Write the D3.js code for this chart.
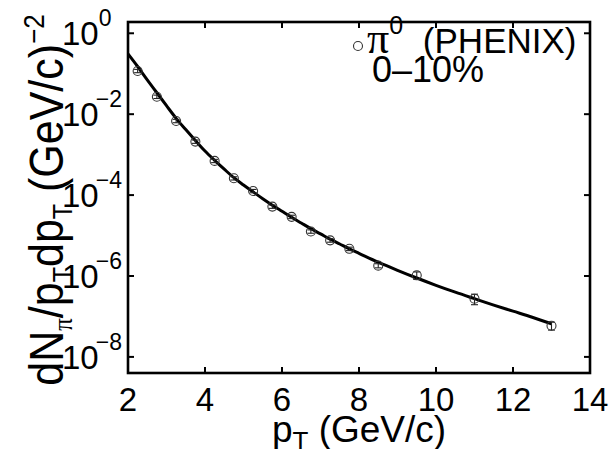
<!DOCTYPE html>
<html>
<head>
<meta charset="utf-8">
<script src="https://cdn.jsdelivr.net/npm/d3@7"></script>
<style>
  html, body { margin: 0; padding: 0; background: #fff; }
  svg { display: block; font-family: "Liberation Sans", Arial, Helvetica, sans-serif; }
</style>
</head>
<body>
<svg id="chart" width="613" height="449"></svg>
<script>
// PHENIX pi0 spectrum, 0-10% centrality: measured points
const pointPt  = [2.25, 2.75, 3.25, 3.75, 4.25, 4.75, 5.25, 5.75, 6.25, 6.75, 7.25, 7.75, 8.5, 9.5, 11.0, 13.0];
const pointVal = [0.117, 0.027, 0.0068, 0.0021, 7.0e-4, 2.6e-4, 1.26e-4, 5.2e-5, 2.9e-5, 1.26e-5, 7.6e-6, 4.7e-6, 1.8e-6, 1.04e-6, 2.75e-7, 5.9e-8];
const pointErr = [0.011, 0.0026, 6.5e-4, 2.0e-4, 6.5e-5, 2.4e-5, 1.2e-5, 5.0e-6, 2.8e-6, 1.2e-6, 7.5e-7, 4.6e-7, 2.1e-7, 2.2e-7, 0.8e-7, 1.3e-8];

// Model curve
const curvePt  = [2.0, 2.25, 2.5, 2.75, 3.0, 3.25, 3.5, 3.75, 4.0, 4.25, 4.5, 4.75, 5.0, 5.25, 5.5, 5.75, 6.0, 6.25, 6.5, 6.75, 7.0, 7.25, 7.5, 7.75, 8.0, 8.5, 9.0, 9.5, 10.0, 10.5, 11.0, 11.5, 12.0, 12.5, 13.0];
const curveVal = [0.31, 0.151, 0.0708, 0.0339, 0.0162, 0.0079, 0.00417, 0.00224, 0.00123, 7.24e-4, 4.37e-4, 2.69e-4, 1.78e-4, 1.20e-4, 8.13e-5, 5.62e-5, 3.98e-5, 2.82e-5, 2.04e-5, 1.48e-5, 1.10e-5, 8.13e-6, 6.17e-6, 4.68e-6, 3.63e-6, 2.19e-6, 1.38e-6, 8.91e-7, 5.89e-7, 3.98e-7, 2.75e-7, 1.91e-7, 1.35e-7, 9.55e-8, 6.6e-8];

// Axis ticks
const xTicks = [2, 4, 6, 8, 10, 12, 14];
const yTickExp = [0, -2, -4, -6, -8];

const svg = d3.select("#chart");
const plotLeft = 128, plotRight = 590, plotTop = 22, plotBottom = 373;
const serif = "'Liberation Serif', 'Times New Roman', serif";

const x = d3.scaleLinear().domain([2, 14]).range([plotLeft, plotRight]);
const y = d3.scaleLog().domain([4e-9, 1.9]).range([plotBottom, plotTop]);

const g = svg.append("g");

// Curve
const line = d3.line()
  .x((d, i) => x(curvePt[i]))
  .y(d => y(d))
  .curve(d3.curveMonotoneX);
g.append("path")
  .datum(curveVal)
  .attr("d", line)
  .attr("fill", "none")
  .attr("stroke", "#000")
  .attr("stroke-width", 3);

// Error bars
const pts = pointPt.map((p, i) => ({ p, v: pointVal[i], e: pointErr[i] }));
const eb = g.append("g").attr("stroke", "#222").attr("stroke-width", 1.1).attr("fill", "none");
pts.forEach(d => {
  const x0 = x(d.p), y1 = y(d.v + d.e), y2 = y(d.v - d.e);
  eb.append("line").attr("x1", x0).attr("x2", x0).attr("y1", y1).attr("y2", y2);
  eb.append("line").attr("x1", x0 - 3.5).attr("x2", x0 + 3.5).attr("y1", y1).attr("y2", y1);
  eb.append("line").attr("x1", x0 - 3.5).attr("x2", x0 + 3.5).attr("y1", y2).attr("y2", y2);
});

// Markers
g.append("g").selectAll("circle").data(pts).join("circle")
  .attr("cx", d => x(d.p))
  .attr("cy", d => y(d.v))
  .attr("r", 4.5)
  .attr("fill", "none")
  .attr("stroke", "#333")
  .attr("stroke-width", 1.1);

// Axes box with inward ticks on all sides
const axG = svg.append("g").attr("stroke", "#000").attr("stroke-width", 2.6).attr("fill", "none");
axG.append("rect").attr("x", plotLeft).attr("y", plotTop).attr("width", plotRight - plotLeft).attr("height", plotBottom - plotTop);
const tl = 6;
xTicks.forEach(t => {
  axG.append("line").attr("x1", x(t)).attr("x2", x(t)).attr("y1", plotBottom).attr("y2", plotBottom - tl).attr("stroke-width", 2);
  axG.append("line").attr("x1", x(t)).attr("x2", x(t)).attr("y1", plotTop).attr("y2", plotTop + tl).attr("stroke-width", 2);
});
yTickExp.forEach(e => {
  const yy = y(Math.pow(10, e));
  axG.append("line").attr("x1", plotLeft).attr("x2", plotLeft + tl).attr("y1", yy).attr("y2", yy).attr("stroke-width", 2);
  axG.append("line").attr("x1", plotRight).attr("x2", plotRight - tl).attr("y1", yy).attr("y2", yy).attr("stroke-width", 2);
});

// X tick labels
svg.append("g").selectAll("text").data(xTicks).join("text")
  .attr("x", d => x(d))
  .attr("y", 411)
  .attr("text-anchor", "middle")
  .attr("font-size", 33)
  .text(d => d);

// Y tick labels: 10^n
yTickExp.forEach(e => {
  const yy = y(Math.pow(10, e));
  const t = svg.append("text").attr("x", 62).attr("y", yy + 12).attr("font-size", 33);
  t.append("tspan").text("10");
  t.append("tspan").attr("dy", -19).attr("dx", e < 0 ? -3 : 0).attr("font-size", 23)
    .text(e < 0 ? "\u2212" + (-e) : String(e));
});

// X axis label
const xl = svg.append("text").attr("x", x(8)).attr("y", 442).attr("text-anchor", "middle").attr("font-size", 37);
xl.append("tspan").text("p");
xl.append("tspan").attr("dy", 8).attr("font-size", 26).text("T");
xl.append("tspan").attr("dy", -8).text(" (GeV/c)");

// Y axis label
const yl = svg.append("text")
  .attr("transform", "translate(63,200) rotate(-90) scale(1,1.12)")
  .attr("text-anchor", "middle")
  .attr("font-size", 43);
yl.append("tspan").text("dN");
yl.append("tspan").attr("dy", 8).attr("font-size", 25).attr("font-family", serif).text("\u03c0");
yl.append("tspan").attr("dy", -8).text("/p");
yl.append("tspan").attr("dy", 8).attr("font-size", 25).text("T");
yl.append("tspan").attr("dy", -8).text("dp");
yl.append("tspan").attr("dy", 8).attr("font-size", 25).text("T");
yl.append("tspan").attr("dy", -8).text(" (GeV/c)");
yl.append("tspan").attr("dy", -17).attr("font-size", 26).text("\u22122");

// Legend
const lg = svg.append("g");
lg.append("circle").attr("cx", 358).attr("cy", 46).attr("r", 4.5)
  .attr("fill", "none").attr("stroke", "#333").attr("stroke-width", 1.1);
const lt = lg.append("text").attr("x", 367).attr("y", 53).attr("font-size", 35);
lt.append("tspan").attr("font-family", serif).attr("font-size", 44).text("\u03c0");
lt.append("tspan").attr("dy", -19).attr("dx", 0).attr("font-size", 25).text("0");
lt.append("tspan").attr("dy", 19).attr("dx", 10).text(" (PHENIX)");
lg.append("text").attr("x", 372).attr("y", 82).attr("font-size", 36).text("0\u201310%");
</script>
</body>
</html>
